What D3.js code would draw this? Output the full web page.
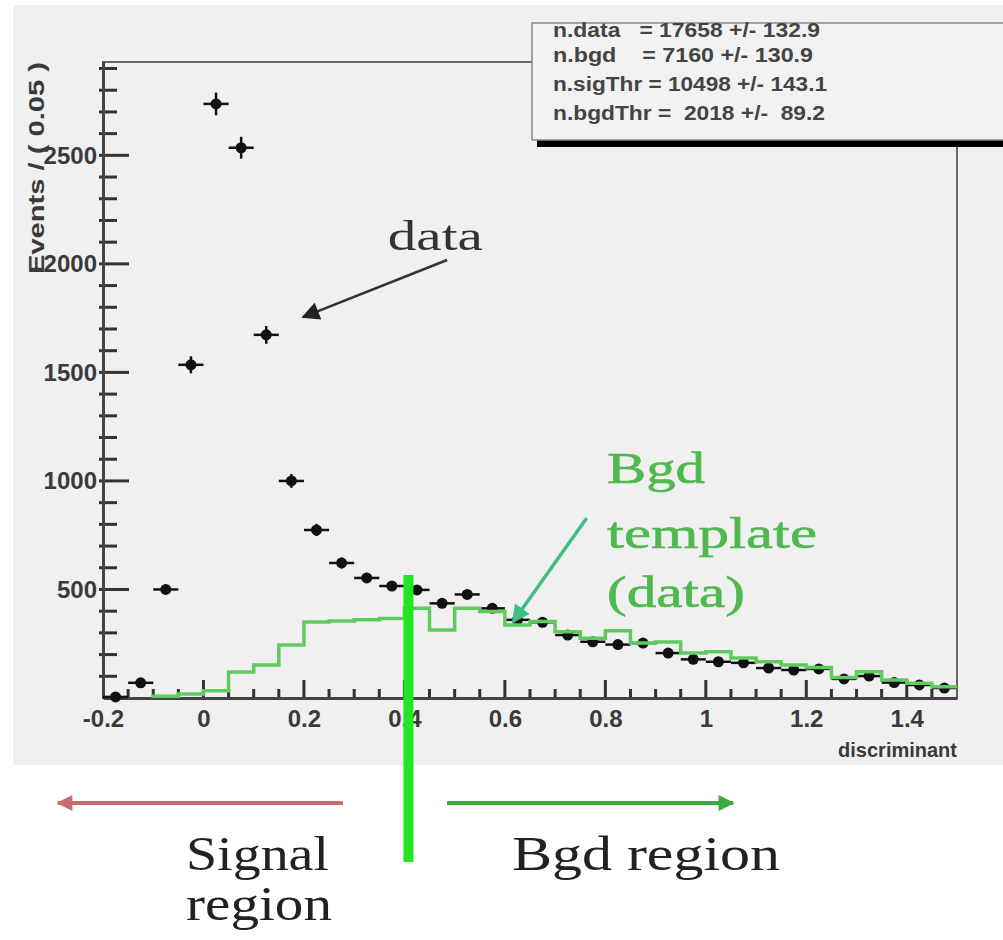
<!DOCTYPE html>
<html>
<head>
<meta charset="utf-8">
<script src="https://cdn.jsdelivr.net/npm/d3@7"></script>
<style>
  body { margin: 0; background: #ffffff; }
  text { font-family: "Liberation Sans", Arial, sans-serif; }
  .serif { font-family: "Liberation Serif", "DejaVu Serif", serif; }
</style>
</head>
<body>
<script>
// bin centres of the data histogram (width 0.05)
var binCenters = [-0.175, -0.125, -0.075, -0.025, 0.025, 0.075, 0.125, 0.175,
  0.225, 0.275, 0.325, 0.375, 0.425, 0.475, 0.525, 0.575, 0.625, 0.675,
  0.725, 0.775, 0.825, 0.875, 0.925, 0.975, 1.025, 1.075, 1.125, 1.175,
  1.225, 1.275, 1.325, 1.375, 1.425, 1.475];
var dataCounts = [5, 70, 500, 1535, 2737, 2535, 1673, 1000,
  774, 622, 553, 516, 498, 436, 477, 413, 360, 349,
  290, 259, 246, 253, 207, 178, 167, 162, 138, 129,
  134, 88, 101, 71, 60, 46];

// background template, low edges of its bins
var bgdEdges = [-0.1, -0.05, 0, 0.05, 0.1, 0.15, 0.2, 0.25, 0.3, 0.35,
  0.4, 0.45, 0.5, 0.55, 0.6, 0.65, 0.7, 0.75, 0.8, 0.85, 0.9, 0.95,
  1.0, 1.05, 1.1, 1.15, 1.2, 1.25, 1.3, 1.35, 1.4, 1.45];
var bgdCounts = [8, 18, 33, 120, 152, 244, 350, 355, 360, 366,
  413, 313, 413, 398, 336, 352, 305, 275, 310, 253, 258, 207,
  213, 184, 167, 152, 140, 95, 121, 83, 68, 52];

var xTicks = [-0.2, 0, 0.2, 0.4, 0.6, 0.8, 1, 1.2, 1.4];
var yTicks = [500, 1000, 1500, 2000, 2500];
var statLines = [
  "n.data   = 17658 +/- 132.9",
  "n.bgd    = 7160 +/- 130.9",
  "n.sigThr = 10498 +/- 143.1",
  "n.bgdThr =  2018 +/-  89.2"
];
var cut = 0.408;   // signal / background threshold

var W = 1003, H = 940;
var svg = d3.select("body").append("svg")
  .attr("width", W).attr("height", H);

// pad
svg.append("rect").attr("x", 13).attr("y", 5)
  .attr("width", W - 13).attr("height", 760)
  .attr("fill", "#f0f0f0");

var x = d3.scaleLinear().domain([-0.2, 1.5]).range([103, 957]);
var y = d3.scaleLinear().domain([0, 2930]).range([698, 62]);

// frame
svg.append("rect")
  .attr("x", x(-0.2)).attr("y", y(2930))
  .attr("width", x(1.5) - x(-0.2)).attr("height", y(0) - y(2930))
  .attr("fill", "none").attr("stroke", "#666").attr("stroke-width", 2);

var fmt = function(d){ return String(+d.toFixed(1)); };

// tick marks, pointing into the frame
var xMinor = d3.range(-0.15, 1.5, 0.05).map(function(d){ return +d.toFixed(2); });
var yMinor = d3.range(100, 2901, 100);
var tickG = svg.append("g").attr("stroke", "#333").attr("stroke-width", 3);
tickG.selectAll("line.xt").data(xMinor).enter().append("line")
  .attr("class", "xt")
  .attr("x1", function(d){ return x(d); }).attr("x2", function(d){ return x(d); })
  .attr("y1", y(0)).attr("y2", function(d){
    return y(0) - (xTicks.indexOf(d) >= 0 ? 18 : 9); });
tickG.selectAll("line.yt").data(yMinor).enter().append("line")
  .attr("class", "yt")
  .attr("y1", function(d){ return y(d); }).attr("y2", function(d){ return y(d); })
  .attr("x1", x(-0.2) - 4).attr("x2", function(d){
    return x(-0.2) + (d % 500 === 0 ? 26 : 14); });

// axes: labels and axis lines
svg.append("g").attr("transform", "translate(0," + y(0) + ")")
  .call(d3.axisBottom(x).tickValues(xTicks).tickSize(0).tickPadding(12).tickFormat(fmt))
  .call(function(g){
    g.select(".domain").attr("stroke", "#444").attr("stroke-width", 3);
    g.selectAll("text").attr("font-size", 24).attr("font-weight", "bold").attr("fill", "#3a3a3a");
  });
svg.append("g").attr("transform", "translate(" + x(-0.2) + ",0)")
  .call(d3.axisLeft(y).tickValues(yTicks).tickSize(0).tickPadding(6).tickFormat(d3.format("d")))
  .call(function(g){
    g.select(".domain").attr("stroke", "#444").attr("stroke-width", 3);
    g.selectAll("text").attr("font-size", 24).attr("font-weight", "bold").attr("fill", "#3a3a3a");
  });

// axis titles
svg.append("text")
  .attr("x", x(1.5)).attr("y", 757)
  .attr("text-anchor", "end").attr("font-size", 20).attr("font-weight", "bold")
  .attr("fill", "#3a3a3a").text("discriminant");
svg.append("text")
  .attr("transform", "translate(44," + y(2930) + ") rotate(-90)")
  .attr("text-anchor", "end").attr("font-size", 22).attr("font-weight", "bold")
  .attr("textLength", 212).attr("lengthAdjust", "spacingAndGlyphs")
  .attr("fill", "#3a3a3a").text("Events / ( 0.05 )");

// data points with error bars
var pts = svg.append("g").selectAll("g")
  .data(binCenters.map(function(c, i){ return [c, dataCounts[i]]; }))
  .enter().append("g");
pts.append("line")
  .attr("x1", function(d){ return x(d[0] - 0.025); })
  .attr("x2", function(d){ return x(d[0] + 0.025); })
  .attr("y1", function(d){ return y(d[1]); })
  .attr("y2", function(d){ return y(d[1]); })
  .attr("stroke", "#111").attr("stroke-width", 2.5);
pts.append("line")
  .attr("x1", function(d){ return x(d[0]); })
  .attr("x2", function(d){ return x(d[0]); })
  .attr("y1", function(d){ return y(d[1] + Math.sqrt(d[1])); })
  .attr("y2", function(d){ return y(Math.max(0, d[1] - Math.sqrt(d[1]))); })
  .attr("stroke", "#111").attr("stroke-width", 2.5);
pts.append("circle")
  .attr("cx", function(d){ return x(d[0]); })
  .attr("cy", function(d){ return y(d[1]); })
  .attr("r", 5.5).attr("fill", "#111");

// background template histogram
var steps = [[bgdEdges[0], 0]];
bgdEdges.forEach(function(e, i){ steps.push([e, bgdCounts[i]]); });
steps.push([1.5, bgdCounts[bgdCounts.length - 1]]);
svg.append("path")
  .attr("d", d3.line().x(function(d){ return x(d[0]); }).y(function(d){ return y(d[1]); })
    .curve(d3.curveStepAfter)(steps))
  .attr("fill", "none").attr("stroke", "#5fcb5f").attr("stroke-width", 3.5);

// stats box
svg.append("rect").attr("x", 537).attr("y", 140).attr("width", 480).attr("height", 7)
  .attr("fill", "#000");
svg.append("rect").attr("x", 532).attr("y", 23).attr("width", 480).attr("height", 117)
  .attr("fill", "#f2f2f2").attr("stroke", "#888").attr("stroke-width", 1.5);
var statY = [37, 62, 91, 120];
var statLen = [267, 260, 274, 272];
svg.append("g").selectAll("text").data(statLines).enter().append("text")
  .attr("x", 553).attr("y", function(d, i){ return statY[i]; })
  .attr("font-size", 20).attr("font-weight", "bold").attr("fill", "#444")
  .attr("textLength", function(d, i){ return statLen[i]; })
  .attr("lengthAdjust", "spacingAndGlyphs")
  .style("white-space", "pre").text(function(d){ return d; });

// "data" annotation
svg.append("text").attr("class", "serif")
  .attr("x", x(0.367)).attr("y", y(2064))
  .attr("font-size", 42).attr("fill", "#333")
  .attr("textLength", 95).attr("lengthAdjust", "spacingAndGlyphs").text("data");
var defs = svg.append("defs");
function marker(id, color, w, h) {
  defs.append("marker").attr("id", id)
    .attr("viewBox", "0 0 10 10").attr("refX", 9).attr("refY", 5)
    .attr("markerWidth", w).attr("markerHeight", h)
    .attr("markerUnits", "userSpaceOnUse").attr("orient", "auto")
    .append("path").attr("d", "M0,0L10,5L0,10Z").attr("fill", color);
}
marker("headDark", "#222", 24, 18);
marker("headTeal", "#3fbf80", 22, 18);
marker("headRed", "#c86e6e", 18, 16);
marker("headGreen", "#3aaa3a", 18, 16);

svg.append("line")
  .attr("x1", x(0.485)).attr("y1", y(2018))
  .attr("x2", x(0.198)).attr("y2", y(1755))
  .attr("stroke", "#333").attr("stroke-width", 2.5)
  .attr("marker-end", "url(#headDark)");

// "Bgd template (data)" annotation
var greenLines = ["Bgd", "template", "(data)"];
var greenY = [483, 548, 607];
var greenLen = [98, 210, 138];
svg.append("g").selectAll("text").data(greenLines).enter().append("text")
  .attr("class", "serif")
  .attr("x", 607).attr("y", function(d, i){ return greenY[i]; })
  .attr("font-size", 44).attr("fill", "#4fb84f")
  .attr("stroke", "#4fb84f").attr("stroke-width", 0.6)
  .attr("textLength", function(d, i){ return greenLen[i]; })
  .attr("lengthAdjust", "spacingAndGlyphs").text(function(d){ return d; });
svg.append("line")
  .attr("x1", x(0.763)).attr("y1", y(829))
  .attr("x2", x(0.616)).attr("y2", y(350))
  .attr("stroke", "#3fbf80").attr("stroke-width", 3.5)
  .attr("marker-end", "url(#headTeal)");

// threshold line
svg.append("line")
  .attr("x1", x(cut)).attr("x2", x(cut))
  .attr("y1", y(567)).attr("y2", 862)
  .attr("stroke", "#22e622").attr("stroke-width", 10);

// region arrows and labels
svg.append("line").attr("x1", 343).attr("x2", 58).attr("y1", 803).attr("y2", 803)
  .attr("stroke", "#c86e6e").attr("stroke-width", 4).attr("marker-end", "url(#headRed)");
svg.append("line").attr("x1", 447).attr("x2", 733).attr("y1", 803).attr("y2", 803)
  .attr("stroke", "#3aaa3a").attr("stroke-width", 4).attr("marker-end", "url(#headGreen)");

svg.append("text").attr("class", "serif").attr("x", 186).attr("y", 870)
  .attr("font-size", 48).attr("fill", "#222")
  .attr("textLength", 143).attr("lengthAdjust", "spacingAndGlyphs").text("Signal");
svg.append("text").attr("class", "serif").attr("x", 186).attr("y", 920)
  .attr("font-size", 48).attr("fill", "#222")
  .attr("textLength", 146).attr("lengthAdjust", "spacingAndGlyphs").text("region");
svg.append("text").attr("class", "serif").attr("x", 512).attr("y", 870)
  .attr("font-size", 48).attr("fill", "#222")
  .attr("textLength", 268).attr("lengthAdjust", "spacingAndGlyphs").text("Bgd region");
</script>
</body>
</html>
